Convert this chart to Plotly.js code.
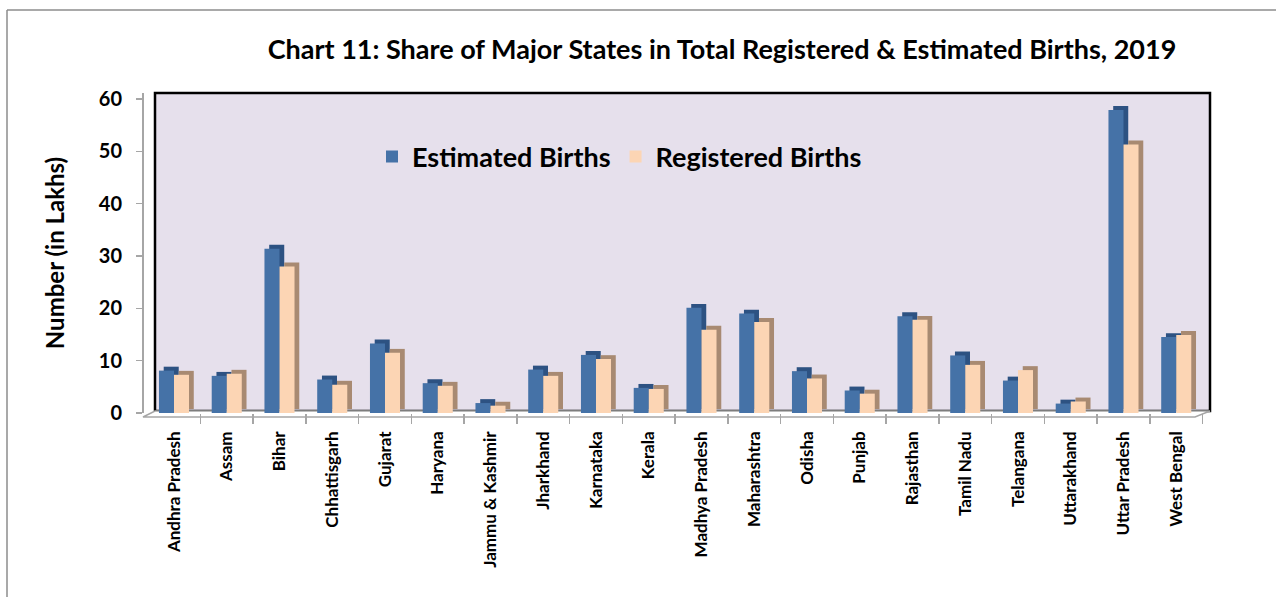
<!DOCTYPE html>
<html>
<head>
<meta charset="utf-8">
<script src="https://cdn.plot.ly/plotly-3.0.1.min.js"></script>
<style>
html,body{margin:0;padding:0;background:#fff;}
#chart{width:1276px;height:597px;}
</style>
</head>
<body>
<div id="chart"></div>
<script>
const states = ["Andhra Pradesh","Assam","Bihar","Chhattisgarh","Gujarat","Haryana","Jammu & Kashmir","Jharkhand","Karnataka","Kerala","Madhya Pradesh","Maharashtra","Odisha","Punjab","Rajasthan","Tamil Nadu","Telangana","Uttarakhand","Uttar Pradesh","West Bengal"];
const estimatedBirths = [8.1,7.1,31.4,6.4,13.3,5.7,1.9,8.3,11.1,4.8,20.1,19.0,8.0,4.3,18.5,11.0,6.2,1.8,57.9,14.5];
const registeredBirths = [7.3,7.5,28.0,5.4,11.5,5.2,1.4,7.1,10.3,4.6,15.9,17.4,6.6,3.7,17.8,9.2,8.2,2.2,51.3,14.9];
const yTicks = [0,10,20,30,40,50,60];

const FONT = "Lato, 'Open Sans', sans-serif";
const W = 0.285, D = 0.09, DY = 0.75;

const traces = [
  {type:'bar', x:states, y:estimatedBirths, base:DY, offset:-W+D, width:W,
   marker:{color:'#2D5282', line:{width:0}}, showlegend:false, hoverinfo:'skip'},
  {type:'bar', x:states, y:registeredBirths, base:DY, offset:D, width:W,
   marker:{color:'#A88A72', line:{width:0}}, showlegend:false, hoverinfo:'skip'},
  {type:'bar', name:'Estimated Births', x:states, y:estimatedBirths, offset:-W, width:W,
   marker:{color:'#4572A7', line:{width:0}}},
  {type:'bar', name:'Registered Births', x:states, y:registeredBirths, offset:0, width:W,
   marker:{color:'#FCD5B4', line:{width:0}}}
];

const L = 140, R = 66, T = 93, B = 184;
const pw = 1276 - L - R, ph = 597 - T - B;
const px = v => (v - L) / pw;
const py = v => (597 - B - v) / ph;

const layout = {
  width:1276, height:597,
  margin:{l:L, r:R, t:T, b:B, pad:0},
  paper_bgcolor:'#ffffff',
  plot_bgcolor:'rgba(0,0,0,0)',
  barmode:'overlay',
  font:{family:FONT, color:'#000'},
  title:{text:'Chart 11: Share of Major States in Total Registered & Estimated Births, 2019',
         font:{family:FONT, size:27, color:'#000', weight:'bold'},
         x:722/1276, xref:'container', xanchor:'center', y:1-50/597, yref:'container', yanchor:'middle'},
  xaxis:{domain:[px(155), 1], type:'category', range:[-0.36, 19.64],
         showgrid:false, zeroline:false, showline:false,
         ticks:'outside', tickson:'boundaries', ticklen:10, tickcolor:'#A6A6A6', tickwidth:1.5,
         tickangle:-90, tickfont:{family:FONT, size:17, color:'#000', weight:'bold'},
         ticklabelstandoff:14, fixedrange:true},
  yaxis:{anchor:'free', position:px(142), range:[0, ph/5.233],
         tickvals:yTicks, ticktext:yTicks.map(String),
         showgrid:false, zeroline:false, showline:true, linecolor:'#A6A6A6', linewidth:1.5,
         ticks:'outside', ticklen:6, tickcolor:'#A6A6A6', tickwidth:1.5,
         tickfont:{family:FONT, size:20, color:'#000', weight:'bold'}, ticklabelstandoff:10,
         title:{text:'Number (in Lakhs)', font:{family:FONT, size:24, color:'#000', weight:'bold'}, standoff:26},
         fixedrange:true},
  legend:{orientation:'h', x:px(372), xanchor:'left', y:py(157), yanchor:'middle',
          bgcolor:'rgba(0,0,0,0)', font:{family:FONT, size:27, color:'#000', weight:'bold'},
          itemwidth:30, traceorder:'normal'},
  shapes:[
    {type:'rect', xref:'paper', yref:'paper', x0:px(155), x1:1, y0:py(411), y1:1,
     fillcolor:'#E6E0EC', line:{color:'#000', width:2.5}, layer:'below'},
    {type:'path', xref:'paper', yref:'paper',
     path:`M ${px(143)} ${py(417)} L ${px(1195)} ${py(417)} L ${px(1210)} ${py(411)} L ${px(155)} ${py(411)} Z`,
     fillcolor:'#FFFFFF', line:{color:'#A6A6A6', width:1.5}, layer:'below'},
    {type:'line', xref:'paper', yref:'paper', x0:px(7), x1:px(1276), y0:py(10), y1:py(10),
     line:{color:'#8C8C8C', width:1.5}},
    {type:'line', xref:'paper', yref:'paper', x0:px(7), x1:px(7), y0:py(10), y1:py(597),
     line:{color:'#8C8C8C', width:1.5}}
  ]
};

Plotly.newPlot('chart', traces, layout, {displayModeBar:false, staticPlot:true});
</script>
</body>
</html>
